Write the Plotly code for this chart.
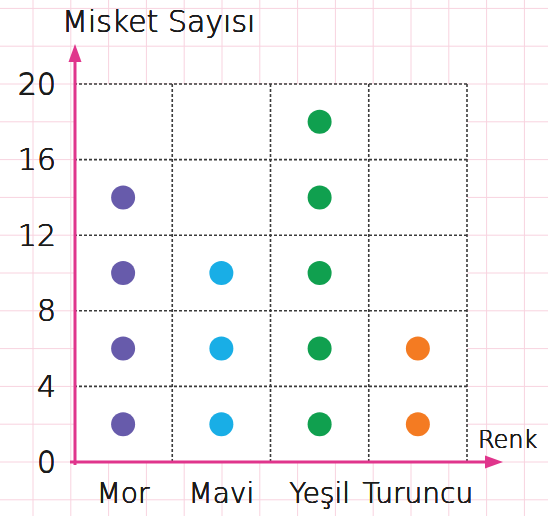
import plotly.graph_objects as go

# ---- data ----
categories = ["Mor", "Mavi", "Yeşil", "Turuncu"]
marble_counts = [16, 12, 20, 8]          # each dot = 4 marbles
dot_colors = ["#675bab", "#19aee6", "#10a04f", "#f47b22"]
y_ticks = [0, 4, 8, 12, 16, 20]
per_dot = 4

W, H = 548, 516
L, R, T, B = 74, 43, 40, 54
PW, PH = W - L - R, H - T - B
XR = [-0.5, -0.5 + PW / (393 / 4)]
YR = [0, PH / (378 / 20)]

def px(x):  # figure pixel -> paper x
    return (x - L) / PW

def py(y):  # figure pixel -> paper y
    return (H - B - y) / PH

fig = go.Figure()

for i, (cat, cnt, col) in enumerate(zip(categories, marble_counts, dot_colors)):
    ys = [per_dot / 2 + per_dot * k for k in range(cnt // per_dot)]
    fig.add_trace(go.Scatter(
        x=[i] * len(ys), y=ys, mode="markers", name=cat,
        marker=dict(size=24, color=col, line=dict(width=0)),
        hoverinfo="skip", showlegend=False))

shapes = []
pink = "#f8d3df"
# graph-paper background
for k in range(-1, 16):
    x = 33 + 37.8 * k
    shapes.append(dict(type="line", xref="paper", yref="paper",
                       x0=px(x), x1=px(x), y0=py(-5), y1=py(H + 5),
                       line=dict(color=pink, width=1), layer="below"))
for k in range(-2, 14):
    y = 462 - 37.8 * k
    shapes.append(dict(type="line", xref="paper", yref="paper",
                       x0=px(-5), x1=px(W + 5), y0=py(y), y1=py(y),
                       line=dict(color=pink, width=1), layer="below"))
# white chart cells
n = len(categories)
shapes.append(dict(type="rect", xref="x", yref="y", x0=-0.5, x1=n - 0.5,
                   y0=0, y1=y_ticks[-1], fillcolor="white",
                   line=dict(width=0), layer="below"))
# dashed grid
dash = dict(color="#3a3a3a", width=1.6, dash="3px,2px")
for yv in y_ticks[1:]:
    shapes.append(dict(type="line", xref="x", yref="y", x0=-0.5, x1=n - 0.5,
                       y0=yv, y1=yv, line=dash, layer="below"))
for i in range(n):
    shapes.append(dict(type="line", xref="x", yref="y", x0=i + 0.5, x1=i + 0.5,
                       y0=0, y1=y_ticks[-1], line=dash, layer="below"))
# axes with arrows
axc = "#e0358c"
shapes.append(dict(type="line", xref="paper", yref="paper",
                   x0=px(75), x1=px(75), y0=py(465), y1=py(58),
                   line=dict(color=axc, width=3)))
shapes.append(dict(type="line", xref="paper", yref="paper",
                   x0=px(70), x1=px(490), y0=py(462), y1=py(462),
                   line=dict(color=axc, width=3)))
shapes.append(dict(type="path", xref="paper", yref="paper",
                   path=f"M {px(75)} {py(44)} L {px(68.5)} {py(62)} L {px(81.5)} {py(62)} Z",
                   fillcolor=axc, line=dict(width=0)))
shapes.append(dict(type="path", xref="paper", yref="paper",
                   path=f"M {px(503)} {py(462)} L {px(485)} {py(455.5)} L {px(485)} {py(468.5)} Z",
                   fillcolor=axc, line=dict(width=0)))

font_family = "DejaVu Sans"
fw = 200
txt = "#1c1c1c"
thick = "0.2px 0 0 #1c1c1c, -0.2px 0 0 #1c1c1c, 0 0.2px 0 #1c1c1c, 0 -0.2px 0 #1c1c1c"
fig.update_layout(
    width=W, height=H, margin=dict(l=L, r=R, t=T, b=B, autoexpand=False),
    paper_bgcolor="white", plot_bgcolor="rgba(0,0,0,0)",
    shapes=shapes,
    font=dict(family=font_family, color=txt, weight=fw),
    xaxis=dict(range=XR, tickvals=list(range(n)), ticktext=categories,
               showgrid=False, zeroline=False, showline=False, ticks="",
               automargin=False,
               tickfont=dict(size=28, color=txt, weight=fw, shadow=thick),
               ticklabelstandoff=12),
    yaxis=dict(range=YR, tickvals=y_ticks, showgrid=False, zeroline=False,
               showline=False, ticks="", automargin=False,
               tickfont=dict(size=30, color=txt, weight=fw, shadow=thick),
               ticklabelstandoff=17),
    annotations=[
        dict(text="Misket Sayısı", xref="paper", yref="paper", x=px(60), y=py(21),
             xanchor="left", yanchor="middle", showarrow=False,
             font=dict(size=30, color=txt, family=font_family, weight=fw, shadow=thick)),
        dict(text="Renk", xref="paper", yref="paper", x=px(476), y=py(440),
             xanchor="left", yanchor="middle", showarrow=False,
             font=dict(size=24, color=txt, family=font_family, weight=fw, shadow=thick)),
    ],
)

fig.write_html("out.html", config={"displayModeBar": False},
               post_script="document.body.style.margin='0';document.body.style.overflow='hidden';")
